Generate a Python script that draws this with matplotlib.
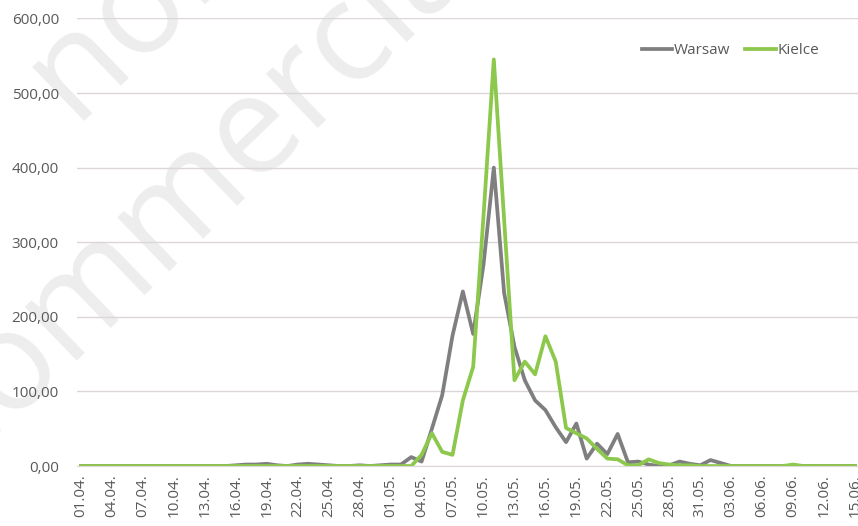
import numpy as np
import pandas as pd
import matplotlib
matplotlib.use("Agg")
import matplotlib.pyplot as plt

plt.rcParams['font.family'] = ['Open Sans', 'DejaVu Sans']

# daily values, 01.04 - 15.06
days = pd.date_range('2021-04-01', '2021-06-15', freq='D')
day_labels = [d.strftime('%d.%m.') for d in days]

warsaw = [
    0, 0, 0, 0, 0, 0, 0, 0, 0, 0,
    0, 0, 0, 0, 0, 1, 2, 2, 3, 1,
    0, 2, 3, 2, 1, 0, 0, 1, 0, 1,
    2, 2, 12, 6, 50, 95, 175, 234, 177, 270,
    400, 232, 160, 115, 88, 75, 52, 32, 57, 10,
    30, 16, 43, 5, 6, 2, 0, 1, 6, 3,
    1, 8, 4, 0, 0, 0, 0, 0, 0, 0,
    0, 0, 0, 0, 0, 0,
]
kielce = [
    0, 0, 0, 0, 0, 0, 0, 0, 0, 0,
    0, 0, 0, 0, 0, 0, 0, 0, 0, 0,
    0, 0, 0, 0, 0, 0, 0, 0, 0, 0,
    0, 0, 0, 15, 44, 19, 15, 88, 133, 335,
    545, 330, 115, 140, 123, 174, 140, 51, 44, 37,
    23, 10, 9, 1, 1, 9, 4, 2, 1, 1,
    0, 0, 0, 0, 0, 0, 0, 0, 0, 2,
    0, 0, 0, 0, 0, 0,
]
y_ticks = [0, 100, 200, 300, 400, 500, 600]

txt = '#595959'
fig = plt.figure(figsize=(8.58, 5.26), dpi=100)

# faint watermark behind the chart
wm = dict(fontsize=100, color='#ededed', rotation=44, rotation_mode='anchor',
          ha='left', va='baseline', zorder=-5)
fig.text(-0.065, 0.085, 'Commercial', **wm)
fig.text(0.085, 0.77, 'non', **wm)

ax = fig.add_axes([77 / 858, 0.114, 781 / 858, 0.851])
ax.patch.set_alpha(0)

x = np.arange(len(days))
ax.plot(x, warsaw, color='#7f7f7f', lw=2.7, label='Warsaw', solid_joinstyle='round')
ax.plot(x, kielce, color='#8cc84b', lw=2.7, label='Kielce', solid_joinstyle='round')

ax.set_xlim(-0.39, 75.29)
ax.set_ylim(0, 600)
ax.set_yticks(y_ticks)
ax.set_yticklabels(['{:.2f}'.format(v).replace('.', ',') for v in y_ticks])
ax.set_xticks(x[::3])
ax.set_xticklabels(day_labels[::3], rotation=90)
ax.tick_params(length=0, labelsize=11, labelcolor=txt)
ax.tick_params(axis='y', pad=13)
ax.tick_params(axis='x', pad=6)

ax.grid(axis='y', color='#dcd6d6', lw=1)
ax.set_axisbelow(True)
for s in ['top', 'right', 'left']:
    ax.spines[s].set_visible(False)
ax.spines['bottom'].set_color('#dcd6d6')

ax.legend(loc='upper right', bbox_to_anchor=(0.968, 0.975), frameon=False, ncol=2,
          fontsize=11, labelcolor=txt, handlelength=2.0, handletextpad=0.1,
          columnspacing=1.0)

fig.savefig('out.png', dpi=100)
